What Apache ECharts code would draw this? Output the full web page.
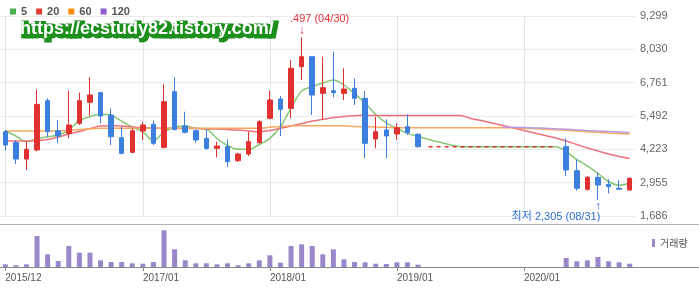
<!DOCTYPE html>
<html><head><meta charset="utf-8">
<script src="https://cdn.jsdelivr.net/npm/echarts@6/dist/echarts.min.js"></script>
<style>html,body{margin:0;padding:0;background:#fff}#c{width:699px;height:288px}</style>
</head><body><div id="c"></div>
<script>
const months = ['2015/12','2016/01','2016/02','2016/03','2016/04','2016/05','2016/06','2016/07','2016/08','2016/09','2016/10','2016/11','2016/12',
'2017/01','2017/02','2017/03','2017/04','2017/05','2017/06','2017/07','2017/08','2017/09','2017/10','2017/11','2017/12',
'2018/01','2018/02','2018/03','2018/04','2018/05','2018/06','2018/07','2018/08','2018/09','2018/10','2018/11','2018/12',
'2019/01','2019/02','2019/03','2019/04','2019/05','2019/06','2019/07','2019/08','2019/09','2019/10','2019/11','2019/12',
'2020/01','2020/02','2020/03','2020/04','2020/05','2020/06','2020/07','2020/08','2020/09','2020/10','2020/11'];
const tickLabels = ['2015/12','2017/01','2018/01','2019/01','2020/01'];
const yTicks = [1686, 2955, 4223, 5492, 6761, 8030, 9299];
const _ = null;
const opens  = [4895,4483,3855,4198,6075,4932,4834,5214,6014,6380,5530,4666,4110,4921,5176,4300,6417,5112,4932,4643,4262,4325,3790,4046,4475,5404,6140,5785,7369,7750,6356,6455,6356,6547,6166,4617,4960,4807,5084,4796,_,_,_,_,_,_,_,_,_,_,_,_,_,4325,3411,2700,3158,2891,2740,2675];
const closes = [4388,3855,4224,5937,4895,4731,5149,6075,6292,5492,4703,4072,4932,5149,4452,6036,4973,4870,4579,4262,4350,3752,4046,4516,5275,6101,5747,7308,7750,6291,6570,6380,6520,6166,4452,4895,4731,5046,4856,4325,_,_,_,_,_,_,_,_,_,_,_,_,_,3437,2740,3158,2865,2802,2705,3119];
const lows   = [4171,3665,3437,4150,4703,4452,4643,5149,5492,5214,4388,4034,4072,4579,4388,4250,4960,4834,4476,4198,3920,3539,3752,3969,4452,5366,4730,5404,6863,5530,5366,6203,6101,5911,3881,4262,3881,4579,4769,4286,_,_,_,_,_,_,_,_,_,_,_,_,_,3208,2650,2650,2305,2548,2700,2650];
const highs  = [4960,4579,4516,6508,6166,5340,6455,6380,6965,6417,5785,5084,5023,5275,5313,6710,6965,5655,4985,4985,4516,4605,4096,4895,5340,6455,6253,7624,8497,7776,7750,7941,7308,6927,6444,5465,5366,5213,5557,4834,_,_,_,_,_,_,_,_,_,_,_,_,_,4643,3842,3208,3335,3081,3056,3158];
const haltClose = [_,_,_,_,_,_,_,_,_,_,_,_,_,_,_,_,_,_,_,_,_,_,_,_,_,_,_,_,_,_,_,_,_,_,_,_,_,_,_,_,4325,4325,4325,4325,4325,4325,4325,4325,4325,4325,4325,4325,4325,_,_,_,_,_,_,_];
const ma5   = [4921,4731,4514,4635,4704,4769,4959,5321,5465,5557,5519,5290,5073,4883,4559,4883,5062,5111,5024,4997,4635,4369,4224,4224,4407,4643,5085,5796,6444,6615,6748,6862,6672,6356,5975,5549,5233,5024,4833,4712,4600,4500,4400,4325,4325,4325,4325,4325,4325,4325,4325,4325,4325,4147,3830,3597,3305,3000,2854,2930];
const ma20  = [4540,4540,4540,4559,4597,4692,4807,4902,5016,5111,5123,5111,5073,5046,5035,5024,5024,5016,5016,4997,4997,4978,4959,4921,4894,4940,5024,5111,5206,5301,5366,5435,5473,5503,5519,5511,5511,5511,5511,5511,5511,5511,5511,5511,5397,5320,5225,5130,5035,4940,4845,4750,4654,4540,4407,4274,4160,4045,3950,3874];
const ma60  = [4921,4921,4921,4921,4921,4932,4951,4978,5005,5024,5024,5024,5024,5024,5024,5024,5024,5024,5024,5024,5024,5024,5024,5024,5024,5066,5092,5123,5123,5123,5123,5123,5123,5092,5085,5073,5062,5046,5046,5046,5046,5046,5046,5046,5046,5046,5046,5046,5046,5024,5005,4986,4967,4948,4921,4894,4871,4845,4826,4807];
const ma120 = [_,_,_,_,_,_,_,_,_,_,_,_,_,_,_,_,_,_,_,_,_,_,_,_,_,_,_,_,_,_,_,_,_,_,_,_,_,_,_,_,_,_,_,_,_,_,_,5069,5066,5054,5039,5024,5005,4986,4963,4940,4921,4902,4883,4864];
const volume = [135,85,135,1550,635,300,1050,715,715,335,250,250,185,165,250,1835,885,335,185,185,135,185,85,185,335,585,215,1050,1135,1050,635,885,385,250,235,165,150,235,235,115,_,_,_,_,_,_,_,_,_,_,_,_,_,450,285,335,500,285,235,165];

const FONT = "'Liberation Sans', 'Noto Sans CJK KR', sans-serif";
const UP = '#e0302f', DOWN = '#3b7fdf';
const candleData = months.map((m, i) => opens[i] == null ? ['-','-','-','-'] : [opens[i], closes[i], lows[i], highs[i]]);
const isTick = (i) => tickLabels.indexOf(months[i]) >= 0;
const hiIdx = months.indexOf('2018/04'), loIdx = months.indexOf('2020/08');

const chart = echarts.init(document.getElementById('c'), null, {renderer: 'canvas'});
const line = (name, data, color) => ({
  name, type: 'line', data, xAxisIndex: 0, yAxisIndex: 0, symbol: 'none', smooth: 0.3,
  lineStyle: {color, width: 1.5}, itemStyle: {color}, z: 2, connectNulls: false
});
chart.setOption({
  animation: false,
  backgroundColor: '#fff',
  textStyle: {fontFamily: FONT},
  legend: [
    {left: 5, top: 1, icon: 'rect', itemWidth: 6, itemHeight: 6, itemGap: 9, selectedMode: false,
     textStyle: {fontSize: 11, fontWeight: 'bold', color: '#555', fontFamily: FONT},
     data: [{name: '5', itemStyle: {color: '#4caf50'}}, {name: '20', itemStyle: {color: '#e53935'}},
            {name: '60', itemStyle: {color: '#fb8c00'}}, {name: '120', itemStyle: {color: '#8e5bd0'}}]},
    {left: 647, top: 233, icon: 'rect', itemWidth: 3, itemHeight: 8, selectedMode: false,
     textStyle: {fontSize: 10, color: '#555', fontFamily: "'Noto Sans CJK KR', sans-serif"},
     data: [{name: '거래량', itemStyle: {color: '#9a87c9'}}]}
  ],
  grid: [
    {left: 0, right: 64, top: 16, height: 200},
    {left: 0, right: 64, top: 224, height: 43},
    {left: 0, right: 0, top: 224, height: 43}
  ],
  xAxis: [
    {type: 'category', gridIndex: 0, data: months, boundaryGap: true,
     axisLine: {show: false}, axisTick: {show: false}, axisLabel: {show: false},
     splitLine: {show: true, interval: (i) => isTick(i), alignWithLabel: true, lineStyle: {color: '#e4e4e4'}}},
    {type: 'category', gridIndex: 1, data: months, boundaryGap: true,
     axisLine: {show: false},
     axisTick: {show: true, alignWithLabel: true, interval: (i) => isTick(i), length: 4, lineStyle: {color: '#888'}},
     axisLabel: {interval: (i) => isTick(i), align: 'left', fontSize: 10, color: '#555', margin: 6}},
    {type: 'value', gridIndex: 2, position: 'top', min: 0, max: 1,
     axisLine: {show: true, onZero: false, lineStyle: {color: '#b0b0b0'}}, axisTick: {show: false}, axisLabel: {show: false}, splitLine: {show: false}},
    {type: 'value', gridIndex: 2, position: 'bottom', min: 0, max: 1,
     axisLine: {show: true, onZero: false, lineStyle: {color: '#888'}}, axisTick: {show: false}, axisLabel: {show: false}, splitLine: {show: false}}
  ],
  yAxis: [
    {type: 'value', gridIndex: 0, position: 'right', min: 1686, max: 9299,
     axisLine: {show: false}, axisTick: {show: false, customValues: yTicks},
     axisLabel: {customValues: yTicks, formatter: (v) => Math.round(v).toLocaleString('en-US'), fontSize: 11, color: '#666', margin: 5},
     splitLine: {show: true, lineStyle: {color: '#ebebeb'}}},
    {type: 'value', gridIndex: 1, min: 0, max: 2150, show: false},
    {type: 'value', gridIndex: 2, min: 0, max: 1, show: false}
  ],
  series: [
    line('5', ma5, '#86c776'),
    line('20', ma20, '#ec737b'),
    line('60', ma60, '#f5a863'),
    line('120', ma120, '#b79de0'),
    {name: 'halt', type: 'line', data: haltClose, xAxisIndex: 0, yAxisIndex: 0, symbol: 'none',
     lineStyle: {color: '#e0302f', width: 1.5, type: [4, 4]}, z: 3},
    {name: 'price', type: 'candlestick', data: candleData, xAxisIndex: 0, yAxisIndex: 0, barWidth: 5, z: 4, clip: false,
     itemStyle: {color: UP, color0: DOWN, borderColor: UP, borderColor0: DOWN, borderWidth: 1},
     markPoint: {
       symbol: 'circle', symbolSize: 1, itemStyle: {color: 'rgba(0,0,0,0)'}, animation: false,
       data: [
         {coord: [months[hiIdx], highs[hiIdx]], label: {show: true, position: 'top', distance: 0, formatter: '↓', color: '#e5323b', fontSize: 12}},
         {coord: [months[hiIdx], highs[hiIdx]], label: {show: true, position: 'top', distance: 12, offset: [18, 0], formatter: '.497 (04/30)', color: '#e5323b', fontSize: 11}},
         {coord: [months[loIdx], lows[loIdx]], label: {show: true, position: 'bottom', distance: 0, formatter: '↑', color: '#2f6fd0', fontSize: 12}},
         {coord: [months[loIdx], lows[loIdx]], label: {show: true, position: 'bottom', distance: 11, offset: [-42, 0], formatter: '최저 2,305 (08/31)', color: '#2f6fd0', fontSize: 11}}
       ]
     }},
    {name: '거래량', type: 'bar', data: volume, xAxisIndex: 1, yAxisIndex: 1, barWidth: 5, itemStyle: {color: '#9a87c9'}}
  ],
  graphic: [
    {type: 'text', z: 100, left: 20, top: 20,
     style: {text: 'https://ecstudy82.tistory.com/', font: "bold 18px 'Liberation Sans'", fill: '#1d8f1d', stroke: '#1d8f1d', lineWidth: 5, lineJoin: 'round'}},
    {type: 'text', z: 101, left: 20, top: 20,
     style: {text: 'https://ecstudy82.tistory.com/', font: "bold 18px 'Liberation Sans'", fill: '#ffffff'}}
  ]
});
</script></body></html>
